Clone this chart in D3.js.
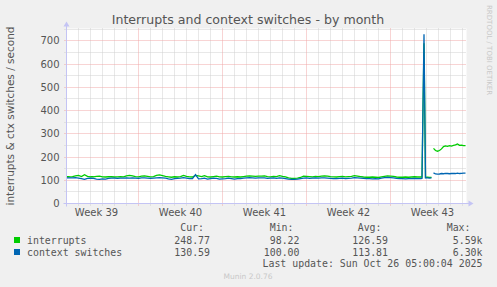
<!DOCTYPE html>
<html>
<head>
<meta charset="utf-8">
<script src="https://cdn.jsdelivr.net/npm/d3@7"></script>
<style>
  body { margin: 0; background: #f0f0f0; }
  svg { display: block; }
  text { font-family: "DejaVu Sans", sans-serif; fill: #555; }
  .mono { font-family: "DejaVu Sans Mono", monospace; }
</style>
</head>
<body>
<div id="chart"></div>
<script>
// hours since Sep 23 00:00, sampled every 6h up to the spike
const regularHours = d3.range(0, 709, 6);
const interruptsRegular = [
  115,115,116,119,121,116,124,117,115,115, 117,118,115,114,115,115,114,115,116,115,
  119,121,119,116,115,118,119,117,115,116, 121,123,120,
  117,115,113,115,114,116,121,117,115,114, 121,119,116,120,115,114,116,118,115,114,
  116,117,115,114,115,114,116,118,119,118, 117,118,118,
  119,116,115,117,116,120,117,115,110,108, 108,109,112,118,117,116,115,117,116,118,
  119,118,116,115,114,116,117,115,116,117, 120,118,116,
  114,113,113,114,113,112,115,117,119,118, 117,114,113,113,114,113,114,115,114,114
];
const ctxRegular = [
  110,110,110,111,109,107,104,108,109,108, 105,104,106,105,108,109,109,108,109,109,
  110,109,110,109,108,110,110,109,108,109, 110,111,110,
  109,106,104,107,108,109,111,109,107,107, 124,106,107,109,105,107,109,108,105,106,
  107,109,107,105,107,107,109,110,111,110, 109,110,110,
  110,108,109,110,108,110,109,107,105,104, 104,105,107,109,110,108,109,110,109,110,
  110,109,108,107,107,108,109,107,108,109, 111,110,109,
  108,107,107,106,107,106,109,111,112,111, 110,108,107,107,106,107,107,108,107,107
];

// around the spike and after the gap (null = no data)
const tailHours      = [711, 715, 718, 722, 726, 730, 732, 734, 738, 742, 746, 750, 754, 758, 762, 766, 770, 774, 778, 782, 786, 790, 794, 798];
const interruptsTail = [114, 690, 112, 113, 112, 112, null, 237, 228, 225, 228, 235, 245, 248, 246, 249, 247, 250, 252, 256, 250, 251, 249, 249];
const ctxTail        = [108, 728, 110, 110, 109, 110, null, 132, 127, 126, 127, 129, 128, 130, 129, 128, 129, 130, 129, 131, 129, 130, 131, 131];

const yTicks = [0, 100, 200, 300, 400, 500, 600, 700];
const seriesNames = ["interrupts", "context switches"];
const seriesColors = ["#00cc00", "#0066b3"];
const statCols = ["Cur:", "Min:", "Avg:", "Max:"];
const statRows = [
  ["248.77", "98.22", "126.59", "5.59k"],
  ["130.59", "100.00", "113.81", "6.30k"]
];

const W = 497, H = 287;
const plot = {left: 66.5, right: 466.5, top: 28.5, bottom: 203.5};
const start = new Date(Date.UTC(2025, 8, 23));
const end = d3.utcHour.offset(start, 800);

const svg = d3.select("#chart").append("svg")
  .attr("width", W).attr("height", H);
svg.append("rect").attr("width", W).attr("height", H).attr("fill", "#f0f0f0");

const x = d3.scaleUtc().domain([start, end]).range([plot.left, plot.right]);
const y = d3.scaleLinear().domain([0, 753]).range([plot.bottom, plot.top]);
const crisp = v => Math.round(v - 0.5) + 0.5;

svg.append("rect")
  .attr("x", plot.left).attr("y", plot.top)
  .attr("width", plot.right - plot.left).attr("height", plot.bottom - plot.top)
  .attr("fill", "#fff");

//minor grid
const grid = svg.append("g").attr("stroke-dasharray", "1,1").attr("stroke-width", 1);
grid.selectAll(".vmin")
  .data(d3.utcDay.range(d3.utcDay.offset(start, 1), end).filter(d => d.getUTCDay() !== 1))
  .join("line")
  .attr("x1", d => crisp(x(d))).attr("x2", d => crisp(x(d)))
  .attr("y1", plot.top).attr("y2", plot.bottom + 2)
  .attr("stroke", "#d0d0d0");
grid.selectAll(".hmin")
  .data(d3.range(50, 753, 100))
  .join("line")
  .attr("x1", plot.left - 2).attr("x2", plot.right)
  .attr("y1", d => crisp(y(d))).attr("y2", d => crisp(y(d)))
  .attr("stroke", "#d0d0d0");

//major grid
grid.selectAll(".vmaj")
  .data(d3.utcMonday.range(start, end))
  .join("line")
  .attr("x1", d => crisp(x(d))).attr("x2", d => crisp(x(d)))
  .attr("y1", plot.top).attr("y2", plot.bottom + 2)
  .attr("stroke", "#f0a8a8");
grid.selectAll(".hmaj")
  .data(yTicks.slice(1))
  .join("line")
  .attr("x1", plot.left - 2).attr("x2", plot.right)
  .attr("y1", d => crisp(y(d))).attr("y2", d => crisp(y(d)))
  .attr("stroke", "#f0a8a8");

//y tick labels
svg.selectAll(".ylab")
  .data(yTicks)
  .join("text")
  .attr("x", 59.5).attr("y", d => crisp(y(d)))
  .attr("dy", "0.36em")
  .attr("text-anchor", "end")
  .style("font-size", "10px")
  .text(d => d);

//week labels centred on Thursday noon
const weekFmt = d3.utcFormat("%V");
svg.selectAll(".xlab")
  .data(d3.utcMonday.range(d3.utcDay.offset(start, -7), end)
    .filter(d => { const c = x(d3.utcHour.offset(d, 84)); return c > plot.left && c < plot.right; }))
  .join("text")
  .attr("x", d => x(d3.utcHour.offset(d, 84)))
  .attr("y", 216)
  .attr("text-anchor", "middle")
  .style("font-size", "10px")
  .text(d => "Week " + (+weekFmt(d)));

//series
const toPoints = (hours, vals) => hours.map((h, i) => ({t: d3.utcHour.offset(start, h), v: vals[i]}));
const series = [
  toPoints(regularHours, interruptsRegular).concat(toPoints(tailHours, interruptsTail)),
  toPoints(regularHours, ctxRegular).concat(toPoints(tailHours, ctxTail))
];
const line = d3.line()
  .defined(d => d.v != null)
  .x(d => x(d.t))
  .y(d => y(d.v));
svg.selectAll(".series")
  .data(series)
  .join("path")
  .attr("fill", "none")
  .attr("stroke", (d, i) => seriesColors[i])
  .attr("stroke-width", 1.3)
  .attr("d", line);

//axes with arrows
const axisColor = "#c4c4f4";
svg.append("line")
  .attr("x1", plot.left - 3).attr("x2", plot.right + 4)
  .attr("y1", plot.bottom).attr("y2", plot.bottom)
  .attr("stroke", axisColor);
svg.append("line")
  .attr("x1", plot.left).attr("x2", plot.left)
  .attr("y1", plot.bottom + 3).attr("y2", plot.top - 4)
  .attr("stroke", axisColor);
svg.append("path")
  .attr("d", `M${plot.right + 2},${plot.bottom - 3}L${plot.right + 7},${plot.bottom}L${plot.right + 2},${plot.bottom + 3}Z`)
  .attr("fill", axisColor);
svg.append("path")
  .attr("d", `M${plot.left - 3},${plot.top - 2}L${plot.left},${plot.top - 7}L${plot.left + 3},${plot.top - 2}Z`)
  .attr("fill", axisColor);

//title and labels
svg.append("text")
  .attr("x", 248).attr("y", 24)
  .attr("text-anchor", "middle")
  .style("font-size", "12.6px")
  .text("Interrupts and context switches - by month");

svg.append("text")
  .attr("transform", `translate(14,${(plot.top + plot.bottom) / 2}) rotate(-90)`)
  .attr("text-anchor", "middle")
  .style("font-size", "10.5px")
  .text("interrupts & ctx switches / second");

svg.append("text")
  .attr("transform", "translate(487,5) rotate(90)")
  .attr("text-anchor", "start")
  .style("font-size", "7px")
  .style("fill", "#c8c8c8")
  .text("RRDTOOL / TOBI OETIKER");

//legend
const colEnds = [210, 299.5, 388, 482.5];
const headEnds = [204, 293.5, 381.5, 470.5];
svg.selectAll(".head")
  .data(statCols)
  .join("text")
  .attr("class", "mono")
  .attr("x", (d, i) => headEnds[i]).attr("y", 231)
  .attr("text-anchor", "end")
  .style("font-size", "9.9px")
  .text(d => d);

const rows = svg.selectAll(".row")
  .data(seriesNames)
  .join("g")
  .attr("transform", (d, i) => `translate(0,${243.5 + i * 12})`);
rows.append("rect")
  .attr("x", 14).attr("y", -6.5).attr("width", 6).attr("height", 6)
  .attr("fill", (d, i) => seriesColors[i]);
rows.append("text")
  .attr("class", "mono")
  .attr("x", 27)
  .style("font-size", "9.9px")
  .text(d => d);
rows.each(function (d, i) {
  d3.select(this).selectAll(".val")
    .data(statRows[i])
    .join("text")
    .attr("class", "mono")
    .attr("x", (v, j) => colEnds[j])
    .attr("text-anchor", "end")
    .style("font-size", "9.9px")
    .text(v => v);
});

svg.append("text")
  .attr("class", "mono")
  .attr("x", 482.5).attr("y", 267)
  .attr("text-anchor", "end")
  .style("font-size", "9.9px")
  .text("Last update: Sun Oct 26 05:00:04 2025");

svg.append("text")
  .attr("x", 248).attr("y", 279)
  .attr("text-anchor", "middle")
  .style("font-size", "7.5px")
  .style("fill", "#c8c8c8")
  .text("Munin 2.0.76");
</script>
</body>
</html>
